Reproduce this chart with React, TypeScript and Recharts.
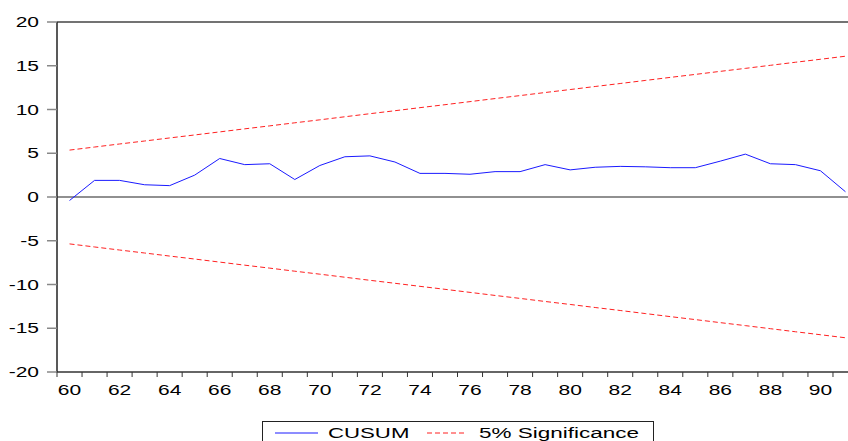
import { LineChart, Line, XAxis, YAxis, ReferenceLine } from 'recharts';

const years = [
  60, 61, 62, 63, 64, 65, 66, 67, 68, 69, 70, 71, 72, 73, 74, 75,
  76, 77, 78, 79, 80, 81, 82, 83, 84, 85, 86, 87, 88, 89, 90, 91,
];
const cusum = [
  -0.4, 1.9, 1.9, 1.4, 1.3, 2.5, 4.4, 3.7, 3.8, 2.0, 3.6, 4.6, 4.7, 4.0, 2.7, 2.7,
  2.6, 2.9, 2.9, 3.7, 3.1, 3.4, 3.5, 3.45, 3.35, 3.35, 4.1, 4.9, 3.8, 3.7, 3.0, 0.6,
];
const upper = [
  5.36, 5.71, 6.06, 6.4, 6.75, 7.09, 7.44, 7.79, 8.13, 8.48, 8.82, 9.17, 9.52, 9.86, 10.21, 10.55,
  10.9, 11.25, 11.59, 11.94, 12.28, 12.63, 12.97, 13.32, 13.67, 14.01, 14.36, 14.7, 15.05, 15.4, 15.74, 16.09,
];
const lower = [
  -5.36, -5.71, -6.06, -6.4, -6.75, -7.09, -7.44, -7.79, -8.13, -8.48, -8.82, -9.17, -9.52, -9.86, -10.21, -10.55,
  -10.9, -11.25, -11.59, -11.94, -12.28, -12.63, -12.97, -13.32, -13.67, -14.01, -14.36, -14.7, -15.05, -15.4, -15.74, -16.09,
];
const xLabels = [60, 62, 64, 66, 68, 70, 72, 74, 76, 78, 80, 82, 84, 86, 88, 90];
const yTicks = [-20, -15, -10, -5, 0, 5, 10, 15, 20];

const data = years.map((y, i) => ({ year: y, cusum: cusum[i], upper: upper[i], lower: lower[i] }));

// tick marks sit between years, labels on even years
const xTicks = [...years.map((y) => y - 0.5), ...xLabels].sort((a, b) => a - b);

const FONT = '"Liberation Sans", Arial, sans-serif';

function XTick(props: any) {
  const { x, y, payload } = props;
  const v = payload.value;
  if (v % 1 !== 0) {
    return <line x1={x} y1={y} x2={x} y2={y + 5} stroke="#333" strokeWidth={1} />;
  }
  return (
    <g transform={`translate(${x},${y + 23}) scale(1.5,1)`}>
      <text x={0} y={0} textAnchor="middle" fontSize={14} fontFamily={FONT} fill="#000">
        {v}
      </text>
    </g>
  );
}

function YTick(props: any) {
  const { x, y, payload } = props;
  return (
    <g transform={`translate(${x},${y + 5}) scale(1.5,1)`}>
      <text x={0} y={0} textAnchor="end" fontSize={14} fontFamily={FONT} fill="#000">
        {payload.value}
      </text>
    </g>
  );
}

export default function App() {
  return (
    <div style={{ position: 'absolute', left: 0, top: 0, width: 848, height: 441, overflow: 'hidden', background: '#fff' }}>
      <LineChart width={860} height={441} data={data} margin={{ top: 22, right: 2, left: 0, bottom: 0 }}>
        <XAxis
          dataKey="year"
          type="number"
          domain={[59.5, 91.5]}
          ticks={xTicks}
          interval={0}
          tick={<XTick />}
          tickLine={false}
          tickSize={0}
          tickMargin={0}
          height={69}
          axisLine={{ stroke: '#333', strokeWidth: 1.5 }}
        />
        <YAxis
          type="number"
          domain={[-20, 20]}
          ticks={yTicks}
          interval={0}
          width={57}
          tickSize={10}
          tickMargin={8}
          tick={<YTick />}
          tickLine={{ stroke: '#888', strokeWidth: 1.5 }}
          axisLine={{ stroke: '#222', strokeWidth: 1.5 }}
        />
        <ReferenceLine y={20} stroke="#444" strokeWidth={1.5} />
        <ReferenceLine y={0} stroke="#222" strokeWidth={1.2} />
        <Line type="linear" dataKey="upper" stroke="#ff2020" strokeWidth={1} strokeDasharray="5 3" dot={false} isAnimationActive={false} />
        <Line type="linear" dataKey="lower" stroke="#ff2020" strokeWidth={1} strokeDasharray="5 3" dot={false} isAnimationActive={false} />
        <Line type="linear" dataKey="cusum" stroke="#1a1aff" strokeWidth={1} dot={false} isAnimationActive={false} />
      </LineChart>
      <svg style={{ position: 'absolute', left: 262, top: 421 }} width={392} height={30}>
        <rect x={0.5} y={0.5} width={391} height={29} fill="#fff" stroke="#222" strokeWidth={1} />
        <line x1={13} y1={12} x2={56} y2={12} stroke="#1a1aff" strokeWidth={1} />
        <g transform="translate(66,17) scale(1.48,1)">
          <text x={0} y={0} fontSize={15} fontFamily={FONT} fill="#000">CUSUM</text>
        </g>
        <line x1={165} y1={12} x2={205} y2={12} stroke="#ff2020" strokeWidth={1} strokeDasharray="5 3" />
        <g transform="translate(217,17) scale(1.5,1)">
          <text x={0} y={0} fontSize={15} fontFamily={FONT} fill="#000">5% Significance</text>
        </g>
      </svg>
    </div>
  );
}
